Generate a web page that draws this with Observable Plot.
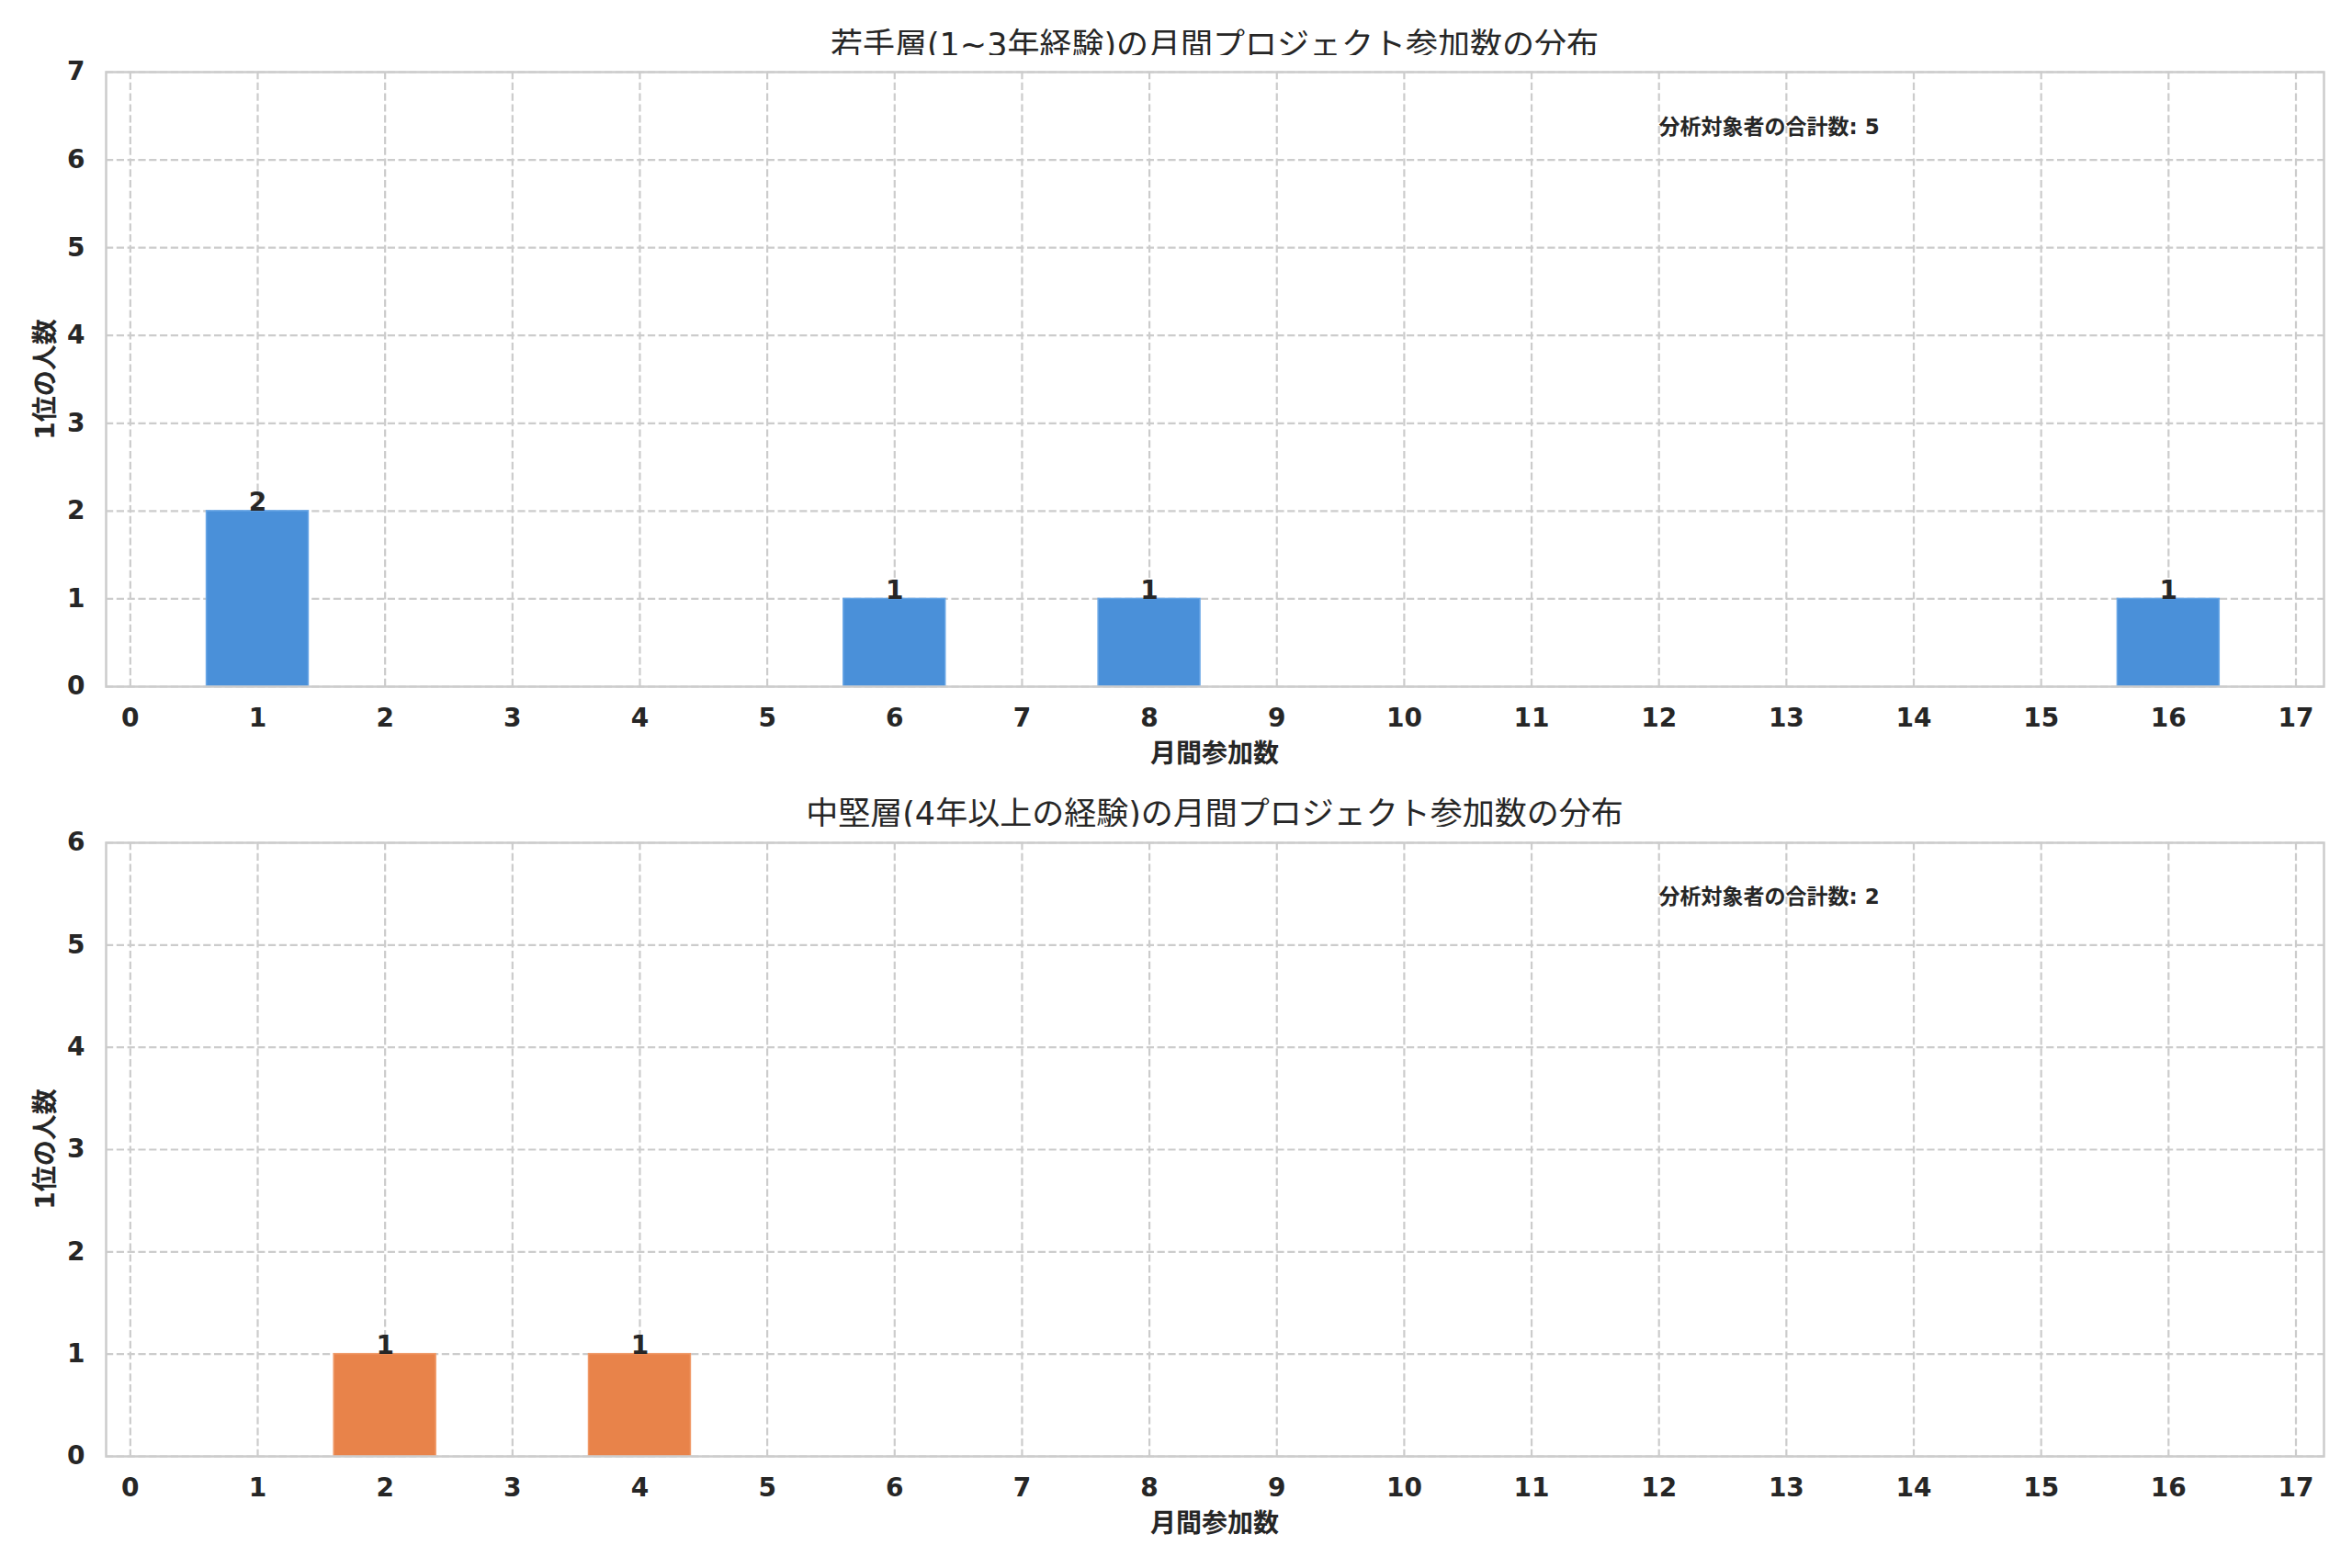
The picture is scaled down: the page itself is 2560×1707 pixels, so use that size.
<!DOCTYPE html>
<html>
<head>
<meta charset="utf-8">
<script src="https://cdn.jsdelivr.net/npm/d3@7"></script>
<script src="https://cdn.jsdelivr.net/npm/@observablehq/plot@0.6"></script>
<style>
  html, body { margin: 0; padding: 0; background: white; }
  #page { position: relative; width: 2560px; height: 1707px; background: white;
          font-family: "DejaVu Sans", "Noto Sans CJK JP", sans-serif; color: #262626; }
  .title { position: absolute; left: 115px; width: 2414px; text-align: center;
           font-size: 35px; height: 44px; line-height: 44px; }
  .xlabel { position: absolute; left: 115px; width: 2414px; text-align: center;
            font-size: 28px; font-weight: bold; height: 36px; line-height: 36px; }
  .ylabel { position: absolute; left: 47px; font-size: 28px; font-weight: bold; white-space: nowrap;
            transform: translate(-50%, -50%) rotate(-90deg); }
  .chart { position: absolute; left: 0; }
</style>
</head>
<body>
<div id="page"></div>
<script>
// ---- data ----
const xTicks = d3.range(0, 18);
const yTicksTop = d3.range(0, 8);
const yTicksBottom = d3.range(0, 7);

const titleTop = "若手層(1~3年経験)の月間プロジェクト参加数の分布";
const titleBottom = "中堅層(4年以上の経験)の月間プロジェクト参加数の分布";
const xLabel = "月間参加数";
const yLabel = "1位の人数";
const annoPrefix = "分析対象者の合計数";

const topValues = [1, 6, 8, 16];
const topCounts = [2, 1, 1, 1];
const bottomValues = [2, 4];
const bottomCounts = [1, 1];

const topColor = "#4a90d9";
const bottomColor = "#e8834a";

const topData = topValues.map((x, i) => ({x, count: topCounts[i]}));
const bottomData = bottomValues.map((x, i) => ({x, count: bottomCounts[i]}));

const FONT = '"DejaVu Sans", "Noto Sans CJK JP", sans-serif';
const page = document.getElementById("page");

function addDiv(cls, text, styles) {
  const d = document.createElement("div");
  d.className = cls;
  d.textContent = text;
  Object.assign(d.style, styles);
  page.appendChild(d);
}

function panel({data, color, edge, yTicks, ymax, top, height, marginTop, marginBottom, title, titleY, annoDy}) {
  addDiv("title", title, {top: (titleY - 22) + "px"});
  const total = d3.sum(data, d => d.count);
  const chart = Plot.plot({
    width: 2560,
    height,
    marginLeft: 115,
    marginRight: 31,
    marginTop,
    marginBottom,
    style: {fontFamily: FONT, fontSize: "28px", color: "#262626", background: "white", overflow: "visible"},
    x: {domain: [-0.19, 17.22], label: null},
    y: {domain: [0, ymax], label: null},
    marks: [
      Plot.ruleX(xTicks, {x: d => d, stroke: "#cccccc", strokeWidth: 2.2, strokeDasharray: "8.2,3.6", strokeOpacity: 1}),
      Plot.ruleY(yTicks, {y: d => d, stroke: "#cccccc", strokeWidth: 2.2, strokeDasharray: "8.2,3.6", strokeOpacity: 1}),
      Plot.rect(data, {x1: d => d.x - 0.4, x2: d => d.x + 0.4, y1: 0, y2: "count", fill: color, stroke: edge, strokeWidth: 1.5}),
      Plot.text(data, {x: "x", y: "count", text: d => String(d.count), lineAnchor: "bottom",
                       fontWeight: "bold", fontSize: 28, fill: "#262626"}),
      Plot.text([`${annoPrefix}: ${total}`], {frameAnchor: "top-left", text: d => d, dx: 1690, dy: annoDy,
                       textAnchor: "start", fontWeight: "bold", fontSize: 23, fill: "#262626"}),
      Plot.axisX({ticks: xTicks, tickFormat: d => String(d), tickSize: 0, tickPadding: 24,
                  fontWeight: "bold", fontSize: 28, label: null, fill: "#262626"}),
      Plot.axisY({ticks: yTicks, tickFormat: d => String(d), tickSize: 0, tickPadding: 23,
                  fontWeight: "bold", fontSize: 28, label: null, fill: "#262626"}),
      Plot.frame({stroke: "#cccccc", strokeWidth: 2.5})
    ]
  });
  chart.classList.add("chart");
  chart.style.top = top + "px";
  page.appendChild(chart);
  const frameTop = top + marginTop;
  const frameBottom = top + height - marginBottom;
  addDiv("xlabel", xLabel, {top: (frameBottom + 74 - 18) + "px"});
  addDiv("ylabel", yLabel, {top: ((frameTop + frameBottom) / 2) + "px"});
}

panel({data: topData, color: topColor, edge: "#6aa7e6", yTicks: yTicksTop, ymax: 7,
       top: 60, height: 790, marginTop: 18, marginBottom: 103,
       title: titleTop, titleY: 49, annoDy: 51});
panel({data: bottomData, color: bottomColor, edge: "#f09a68", yTicks: yTicksBottom, ymax: 6,
       top: 900, height: 800, marginTop: 17, marginBottom: 115,
       title: titleBottom, titleY: 886, annoDy: 50});
</script>
</body>
</html>
